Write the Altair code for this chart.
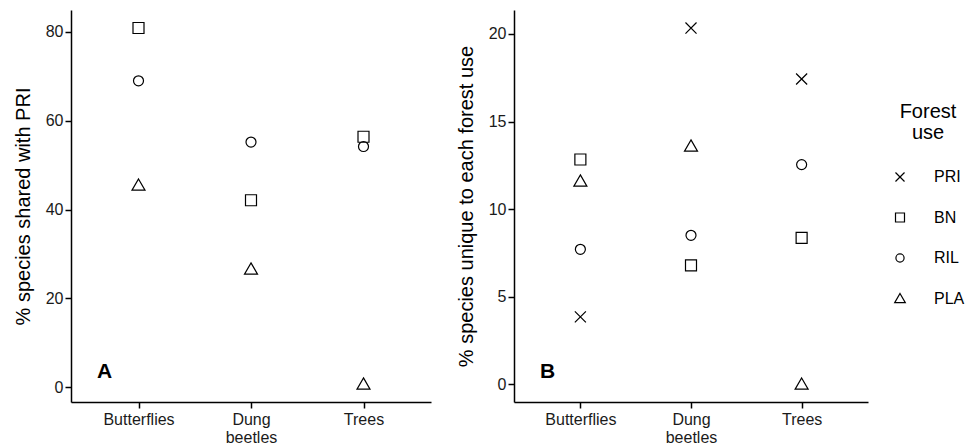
import altair as alt
import pandas as pd

categories = ["Butterflies", "Dung beetles", "Trees"]
uses = ["PRI", "BN", "RIL", "PLA"]

# Panel A: % species shared with PRI
shared_BN = [80.9, 42.1, 56.4]
shared_RIL = [69.0, 55.2, 54.2]
shared_PLA = [45.5, 26.6, 0.7]

# Panel B: % species unique to each forest use
unique_PRI = [3.84, 20.34, 17.43]
unique_BN = [12.83, 6.78, 8.36]
unique_RIL = [7.7, 8.5, 12.54]
unique_PLA = [11.6, 13.6, 0.0]

ticks_a = [0, 20, 40, 60, 80]
ticks_b = [0, 5, 10, 15, 20]

FONT = "Liberation Sans"

# symbol outlines (x, open square, open circle, open triangle)
SYM_X = "M-0.85,-0.85L0.85,0.85M0.85,-0.85L-0.85,0.85"
SYM_SQ = "M-0.846,-0.846H0.846V0.846H-0.846Z"
SYM_CI = "M0.77,0A0.77,0.77 0 1,1 -0.77,0A0.77,0.77 0 1,1 0.77,0Z"
SYM_TR = "M0,-0.95L1,0.78L-1,0.78Z"


def make_df(series):
    rows = []
    for use, vals in series.items():
        for cat, v in zip(categories, vals):
            rows.append({"group": cat, "use": use, "value": v})
    return pd.DataFrame(rows)


df_a = make_df({"BN": shared_BN, "RIL": shared_RIL, "PLA": shared_PLA})
df_b = make_df({"PRI": unique_PRI, "BN": unique_BN, "RIL": unique_RIL, "PLA": unique_PLA})

shape_scale = alt.Scale(domain=uses, range=[SYM_X, SYM_SQ, SYM_CI, SYM_TR])

legend = alt.Legend(title=["Forest", "use"], orient="none", legendX=821, legendY=92,
                    titleAlign="center", titleAnchor="middle", titleFontSize=20,
                    titleFontWeight="normal", titleFont=FONT, titleLineHeight=21,
                    titlePadding=26, titleColor="black",
                    labelFontSize=16, labelFont=FONT, labelColor="black", labelOffset=26,
                    symbolSize=113, symbolStrokeWidth=1.2, symbolStrokeColor="black",
                    rowPadding=24.5)


def panel(df, ytitle, domain, ticks, letter, width):
    pts = alt.Chart(df).mark_point(filled=False, color="black", strokeWidth=1.2, opacity=1, size=169).encode(
        x=alt.X("group:N", sort=categories,
                scale=alt.Scale(type="point", domain=categories, padding=0.6),
                axis=alt.Axis(title=None, labelAngle=0,
                              labelExpr="datum.label == 'Dung beetles' ? ['Dung', 'beetles'] : datum.label",
                              labelLineHeight=18, labelPadding=3)),
        y=alt.Y("value:Q", scale=alt.Scale(domain=domain, nice=False, zero=False),
                axis=alt.Axis(title=ytitle, values=ticks, titlePadding=12)),
        shape=alt.Shape("use:N", scale=shape_scale, legend=legend),
    )
    lab = alt.Chart(pd.DataFrame({"t": [letter]})).mark_text(
        align="left", baseline="alphabetic", fontSize=21, fontWeight="bold", font=FONT, color="black"
    ).encode(text="t:N", x=alt.value(26), y=alt.value(368))
    return alt.layer(pts, lab).properties(width=width, height=392)


a = panel(df_a, "% species shared with PRI", [-3.35, 84.95], ticks_a, "A", 360)
b = panel(df_b, "% species unique to each forest use", [-1.02, 21.37], ticks_b, "B", 354)

chart = alt.hconcat(a, b, spacing=25).properties(
    padding={"left": 5, "top": 2, "right": 0, "bottom": 0}
).configure_view(stroke=None).configure_axis(
    grid=False,
    labelFont=FONT, labelFontSize=16, labelColor="#1a1a1a",
    titleFont=FONT, titleFontSize=20, titleFontWeight="normal", titleColor="black",
    domainColor="black", domainWidth=1.5,
    tickColor="black", tickWidth=1.5, tickSize=6, labelPadding=2,
)

chart.save("out.html", embed_options={"renderer": "svg", "actions": False})
